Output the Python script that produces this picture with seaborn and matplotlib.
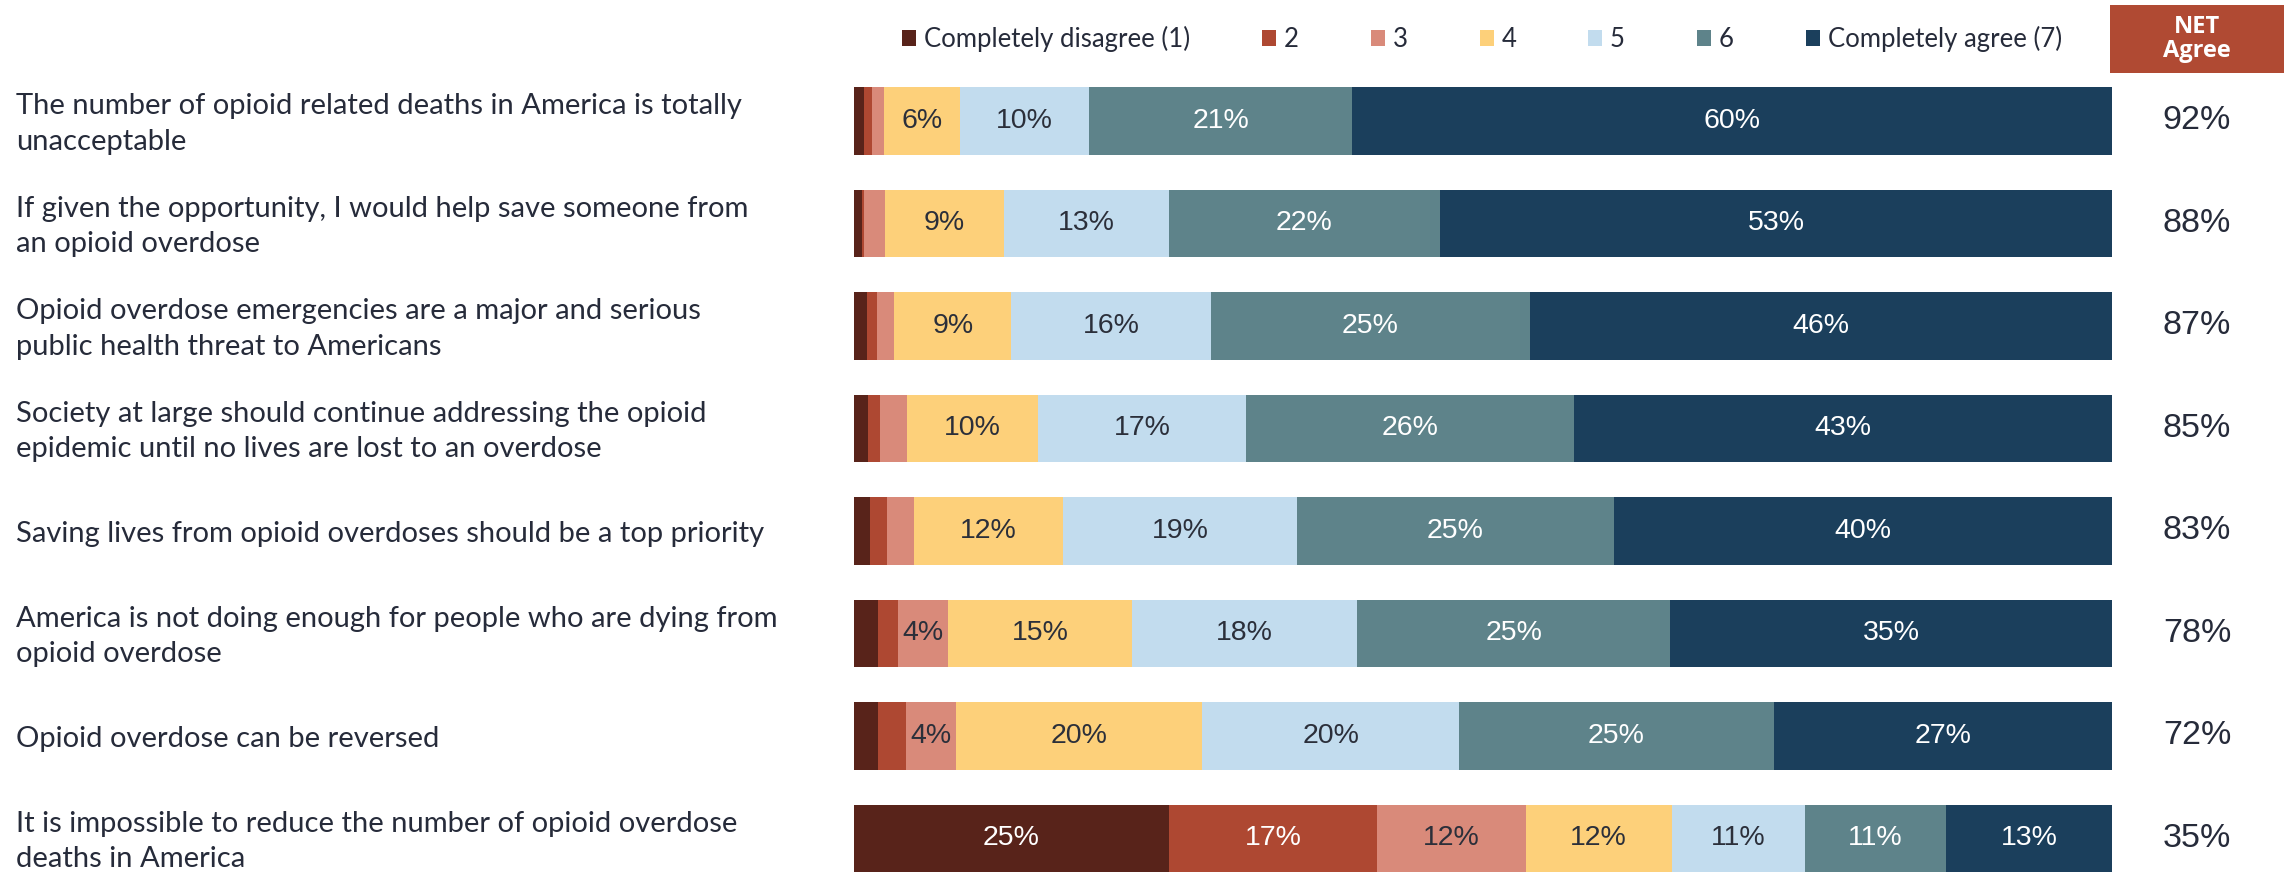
import numpy as np
import pandas as pd
import matplotlib
matplotlib.use("Agg")
import matplotlib.pyplot as plt
import matplotlib.transforms as mtransforms
from matplotlib.patches import Patch, Rectangle
import seaborn as sns

statements = [
    "The number of opioid related deaths in America is totally\nunacceptable",
    "If given the opportunity, I would help save someone from\nan opioid overdose",
    "Opioid overdose emergencies are a major and serious\npublic health threat to Americans",
    "Society at large should continue addressing the opioid\nepidemic until no lives are lost to an overdose",
    "Saving lives from opioid overdoses should be a top priority",
    "America is not doing enough for people who are dying from\nopioid overdose",
    "Opioid overdose can be reversed",
    "It is impossible to reduce the number of opioid overdose\ndeaths in America",
]
levels = ["Completely disagree (1)", "2", "3", "4", "5", "6", "Completely agree (7)"]

lvl1 = [0.8, 0.6, 1.0, 1.1, 1.3, 1.9, 1.9, 25.0]
lvl2 = [0.6, 0.2, 0.8, 1.0, 1.3, 1.6, 2.2, 16.6]
lvl3 = [1.0, 1.7, 1.4, 2.1, 2.2, 4.0, 4.0, 11.8]
lvl4 = [6.0, 9.4, 9.3, 10.4, 11.8, 14.6, 19.6, 11.6]
lvl5 = [10.3, 13.1, 15.9, 16.6, 18.6, 17.9, 20.4, 10.6]
lvl6 = [20.9, 21.6, 25.3, 26.0, 25.2, 24.9, 25.0, 11.2]
lvl7 = [60.4, 53.4, 46.3, 42.8, 39.6, 35.1, 26.9, 13.2]
net_agree = [92, 88, 87, 85, 83, 78, 72, 35]

colors = ["#58231A", "#AE4832", "#D98A7A", "#FDD07A", "#C2DCEE", "#5E838A", "#1B3F5C"]
label_colors = ["white", "white", "#2B2F3A", "#2B2F3A", "#2B2F3A", "white", "white"]
text_color = "#262B3A"

series = [lvl1, lvl2, lvl3, lvl4, lvl5, lvl6, lvl7]
vals = np.array(series)  # shape (7, 8)
cum = np.cumsum(vals, axis=0)

sns.set_theme(style="white")
plt.rcParams["font.family"] = ["Lato", "DejaVu Sans"]

W, H = 2287, 873
fig = plt.figure(figsize=(W / 100, H / 100), dpi=100)

ax_left = 854 / W
ax_w = (2112 - 854) / W
ax_h = (873 - 69.75) / H
ax = fig.add_axes([ax_left, 0, ax_w, ax_h])

df = pd.DataFrame({"statement": statements})
for k in range(6, -1, -1):
    df["cum"] = cum[k]
    sns.barplot(data=df, x="cum", y="statement", orient="h", color=colors[k],
                saturation=1, width=0.66, linewidth=0, ax=ax, order=statements)

ax.set_xlim(0, 100)
ax.set_ylim(7.337, -0.5)
ax.set_xlabel("")
ax.set_ylabel("")
ax.set_xticks([])
ax.set_yticks([])
for s in ax.spines.values():
    s.set_visible(False)

# segment labels
for k in range(7):
    for i in range(len(statements)):
        v = vals[k, i]
        if v >= 3.5:
            xc = cum[k, i] - v / 2
            ax.text(xc, i, f"{v:.0f}%", ha="center", va="center",
                    fontsize=20.5, color=label_colors[k], family="Liberation Sans")

# statement labels
trans = mtransforms.blended_transform_factory(fig.transFigure, ax.transData)
for i, s in enumerate(statements):
    ax.text(16 / W, i + 0.03, s, transform=trans, ha="left", va="center",
            fontsize=21, color=text_color, linespacing=1.45)

# NET values
for i, n in enumerate(net_agree):
    ax.text(2197 / W, i, f"{n}%", transform=trans, ha="center", va="center",
            fontsize=24.5, color=text_color, family="Liberation Sans")

# NET Agree header box
fig.patches.append(Rectangle((2110 / W, 1 - 73 / H), (2284 - 2110) / W, (73 - 5) / H,
                             transform=fig.transFigure, facecolor="#B04A33",
                             edgecolor="none"))
fig.text(2197 / W, 1 - 39 / H, "NET\nAgree", ha="center", va="center",
         fontsize=17, fontweight="bold", color="white", family="Open Sans",
         linespacing=1.05)

# legend
handles = [Patch(facecolor=c, edgecolor="none", label=l) for c, l in zip(colors, levels)]
fig.legend(handles=handles, ncol=7, loc="center", bbox_to_anchor=(1482 / W, 1 - 39 / H),
           frameon=False, fontsize=18.5, handlelength=0.55, handleheight=0.55,
           handletextpad=0.3, columnspacing=2.8, labelcolor=text_color)

fig.savefig("out.png", dpi=100)
